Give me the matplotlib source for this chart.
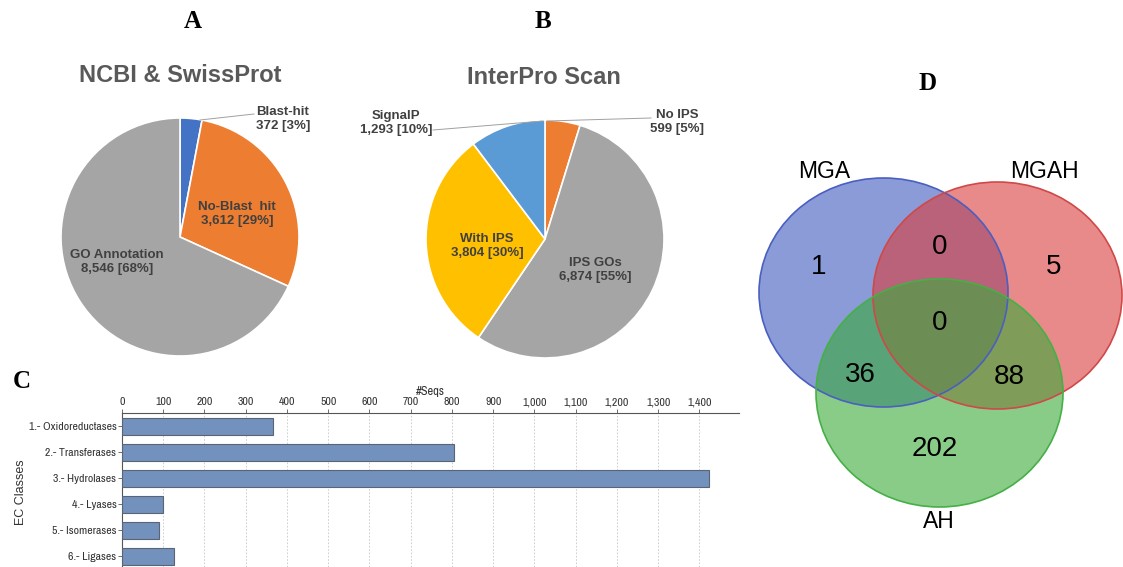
import matplotlib
matplotlib.use("Agg")
import matplotlib.pyplot as plt
from matplotlib import font_manager
from matplotlib.patches import Ellipse
from matplotlib.ticker import FuncFormatter

# ---- data ----
blast_labels = ["Blast-hit", "No-Blast  hit", "GO Annotation"]
blast_counts = [372, 3612, 8546]
blast_pct = [3, 29, 68]
blast_colors = ["#4472C4", "#ED7D31", "#A5A5A5"]

ips_labels = ["No IPS", "IPS GOs", "With IPS", "SignalP"]
ips_counts = [599, 6874, 3804, 1293]
ips_pct = [5, 55, 30, 10]
ips_colors = ["#ED7D31", "#A5A5A5", "#FFC000", "#5B9BD5"]

ec_classes = ["1.- Oxidoreductases", "2.- Transferases", "3.- Hydrolases",
              "4.- Lyases", "5.- Isomerases", "6.- Ligases"]
ec_seqs = [366, 805, 1423, 100, 89, 127]

venn_sets = ["MGA", "MGAH", "AH"]
venn_counts = {"MGA": 1, "MGAH": 5, "AH": 202, "MGA&MGAH": 0,
               "MGA&AH": 36, "MGAH&AH": 88, "all": 0}

W, H = 1123, 567
SANS = ["Liberation Sans", "DejaVu Sans"]
SERIF = ["Liberation Serif", "DejaVu Serif"]

# a narrow font for the bar chart if one is installed
narrow = None
for f in font_manager.fontManager.ttflist:
    if ("Narrow" in f.name or "Condensed" in f.name) and f.style == "normal":
        narrow = f.name
        break
if narrow is None:
    for f in font_manager.fontManager.ttflist:
        if f.stretch in ("condensed", "semi-condensed") and f.style == "normal":
            narrow = f.name
            break
if narrow is not None:
    NARROW = [narrow, "DejaVu Sans"]
    nsize = 8.5
else:
    NARROW = SANS
    nsize = 6.8


def rect(x0, y0, w, h):
    # pixel box (top-left origin) -> figure fraction
    return [x0 / W, 1 - (y0 + h) / H, w / W, h / H]


fig = plt.figure(figsize=(W / 100, H / 100), dpi=100)


def draw_pie(cx, cy, r, counts, colors):
    ax = fig.add_axes(rect(cx - r, cy - r, 2 * r, 2 * r))
    ax.pie(counts, colors=colors, startangle=90, counterclock=False, radius=1,
           wedgeprops=dict(edgecolor="white", linewidth=1.2))
    ax.set_xlim(-1, 1)
    ax.set_ylim(-1, 1)
    ax.set_aspect("auto")
    ax.axis("off")
    return ax


draw_pie(180, 237, 119, blast_counts, blast_colors)
draw_pie(545, 239, 119, ips_counts, ips_colors)

# ---- bar chart C ----
axc = fig.add_axes(rect(122, 413, 617, 154))
ypos = list(range(len(ec_classes)))
axc.barh(ypos, ec_seqs, height=0.65, color="#7391BD", edgecolor="#5A6475",
         linewidth=0.8, zorder=3)
axc.set_xlim(0, 1496)
axc.set_ylim(5.42, -0.52)
axc.set_yticks(ypos)
axc.set_yticklabels(ec_classes, family=NARROW, fontsize=nsize, color="#333333")
axc.set_xticks(range(0, 1401, 100))
axc.xaxis.set_major_formatter(FuncFormatter(lambda v, p: f"{v:,.0f}"))
axc.xaxis.tick_top()
axc.xaxis.set_label_position("top")
for lab in axc.get_xticklabels():
    lab.set_family(NARROW)
    lab.set_fontsize(nsize)
    lab.set_color("#333333")
axc.tick_params(axis="x", length=3, width=0.6, pad=1, color="#555555")
axc.tick_params(axis="y", length=3, width=0.6, pad=1, color="#555555")
axc.grid(axis="x", color="#C8C8C8", linestyle=(0, (2, 2)), linewidth=0.6, zorder=0)
for side in ["right", "bottom"]:
    axc.spines[side].set_visible(False)
axc.spines["top"].set_color("#555555")
axc.spines["left"].set_color("#555555")
axc.set_xlabel("#Seqs", family=NARROW, fontsize=nsize + 0.5, color="#333333", labelpad=2)

# ---- overlay for labels and Venn ----
ov = fig.add_axes([0, 0, 1, 1], zorder=5)
ov.set_xlim(0, W)
ov.set_ylim(H, 0)
ov.axis("off")

ov.text(21, 492, "EC Classes", family=SANS, fontsize=9, color="#333333",
        rotation=90, ha="center", va="center")

for letter, x, y in [("A", 193, 21), ("B", 543, 21), ("C", 22, 382), ("D", 928, 84)]:
    ov.text(x, y, letter, family=SERIF, fontweight="bold", fontsize=18,
            ha="center", va="center")

ov.text(180, 75, "NCBI & SwissProt", family=SANS, fontweight="bold", fontsize=17,
        color="#595959", ha="center", va="center")
ov.text(544, 78, "InterPro Scan", family=SANS, fontweight="bold", fontsize=17,
        color="#595959", ha="center", va="center")

lab_kw = dict(family=SANS, fontweight="bold", fontsize=9.5, color="#404040",
              va="center", linespacing=1.25)


def pie_label(name, count, pct, x, y, ha="center"):
    ov.text(x, y, f"{name}\n{count:,} [{pct}%]", ha=ha, **lab_kw)


pie_label(blast_labels[0], blast_counts[0], blast_pct[0], 256, 119, ha="left")
pie_label(blast_labels[1], blast_counts[1], blast_pct[1], 237, 214)
pie_label(blast_labels[2], blast_counts[2], blast_pct[2], 117, 262)
ov.plot([200, 254], [120, 114], color="#A0A0A0", lw=0.7)

pie_label(ips_labels[0], ips_counts[0], ips_pct[0], 677, 122)
pie_label(ips_labels[1], ips_counts[1], ips_pct[1], 595, 270)
pie_label(ips_labels[2], ips_counts[2], ips_pct[2], 487, 246)
pie_label(ips_labels[3], ips_counts[3], ips_pct[3], 396, 123)
ov.plot([547, 651], [121, 118], color="#A0A0A0", lw=0.7)
ov.plot([433, 543], [130, 121], color="#A0A0A0", lw=0.7)

# Venn diagram D
circles = {
    "MGA": ((883.5, 292.5), 249, 229, "#3C58BE", "#4A5FC0"),
    "MGAH": ((997.5, 295.5), 249, 227, "#D93C3C", "#D04848"),
    "AH": ((939.5, 393), 247, 228, "#39AA39", "#45B045"),
}
for name in venn_sets:
    (cx, cy), w, h, fc, ec = circles[name]
    ov.add_patch(Ellipse((cx, cy), w, h, facecolor=fc, alpha=0.6, edgecolor="none"))
for name in venn_sets:
    (cx, cy), w, h, fc, ec = circles[name]
    ov.add_patch(Ellipse((cx, cy), w, h, facecolor="none", edgecolor=ec, lw=1.2))

set_label_pos = {"MGA": (824, 171), "MGAH": (1044, 172), "AH": (939, 522)}
for name in venn_sets:
    x, y = set_label_pos[name]
    ov.text(x, y, name, family=SANS, fontsize=16.5, ha="center", va="center")

region_pos = {"MGA": (819, 267), "MGA&MGAH": (940, 247), "MGAH": (1054, 267),
              "all": (940, 323), "MGA&AH": (860, 375), "MGAH&AH": (1009, 377),
              "AH": (935, 449)}
for key, (x, y) in region_pos.items():
    ov.text(x, y, str(venn_counts[key]), family=SANS, fontsize=20,
            ha="center", va="center")

fig.savefig("out.png", dpi=100)
